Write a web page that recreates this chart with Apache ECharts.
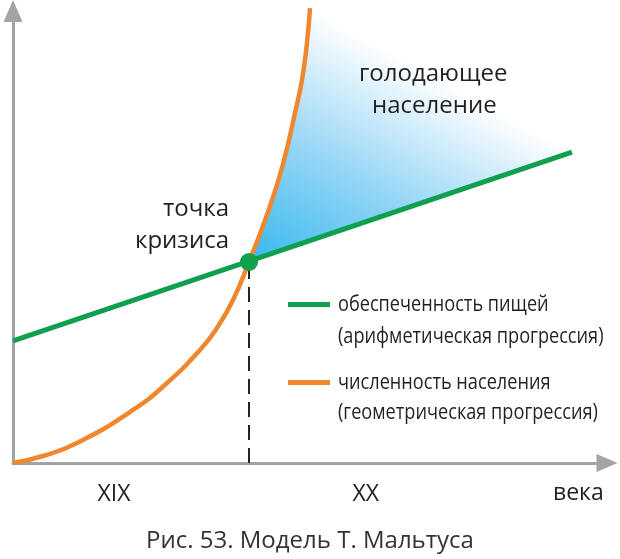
<!DOCTYPE html>
<html>
<head>
<meta charset="utf-8">
<script src="https://cdn.jsdelivr.net/npm/echarts@6/dist/echarts.min.js"></script>
<style>
  html, body { margin: 0; padding: 0; background: #fff; }
  #chart { width: 620px; height: 559px; }
</style>
</head>
<body>
<div id="chart"></div>
<script>
  // обеспеченность пищей (прямая) и численность населения (кривая), в условных единицах 0..100
  var foodLine = [[0, 27.0], [94.1, 68.8]];
  var populationCurve = [
    [0, 0], [5.05, 1.55], [10.77, 4.42], [20.2, 11.73], [25.93, 17.7],
    [31.48, 25.0], [34.34, 29.87], [37.04, 36.06], [39.73, 44.47], [41.58, 50.66],
    [43.27, 56.86], [44.95, 63.72], [46.3, 70.58], [47.47, 77.43], [48.65, 84.73],
    [49.49, 92.92], [50.0, 100.66]
  ];
  var crisisPoint = [39.73, 44.47];
  var centuryTicks = [17, 59.4];
  var centuryLabels = ['XIX', 'XX'];

  var GREEN = '#109e4f';
  var ORANGE = '#f0872f';
  var AXIS = '#a3a3a3';
  var TEXT = '#231f20';
  var FONT = "'Open Sans', 'Noto Sans', sans-serif";

  var myChart = echarts.init(document.getElementById('chart'));

  // голодающее население — область между кривой и прямой выше точки кризиса
  function renderHunger(params, api) {
    var pts = populationCurve.filter(function (p) {
      return p[0] >= crisisPoint[0];
    }).map(function (p) { return api.coord(p); });
    var top = pts[pts.length - 1];
    var end = api.coord(foodLine[1]);
    pts.push(end);
    var c = api.coord(crisisPoint);
    // заливка бледнеет к линии "верх кривой - конец прямой"
    var dx = end[0] - top[0], dy = end[1] - top[1];
    var len = Math.sqrt(dx * dx + dy * dy);
    var nx = dy / len, ny = -dx / len;
    var d = (top[0] - c[0]) * nx + (top[1] - c[1]) * ny;
    return {
      type: 'polygon',
      shape: { points: pts, smooth: 0 },
      style: {
        fill: new echarts.graphic.LinearGradient(c[0], c[1], c[0] + nx * d, c[1] + ny * d, [
          { offset: 0, color: '#36b8ef' },
          { offset: 0.5, color: '#96d6f6' },
          { offset: 1, color: '#ffffff' }
        ], true)
      }
    };
  }

  var legendFont = { fontSize: 22, fontFamily: FONT, fill: TEXT, verticalAlign: 'middle' };

  function txt(el) {
    el.z = 100;
    return el;
  }

  var option = {
    animation: false,
    backgroundColor: '#fff',
    grid: { left: 13, right: 13, top: 11, bottom: 96 },
    xAxis: {
      type: 'value',
      min: 0,
      max: 100,
      name: 'века',
      nameLocation: 'end',
      nameGap: -54,
      nameTextStyle: {
        color: TEXT,
        fontSize: 23,
        fontFamily: FONT,
        align: 'left',
        verticalAlign: 'top',
        padding: [19, 0, 0, 0]
      },
      axisLine: {
        lineStyle: { color: AXIS, width: 3 },
        symbol: ['none', 'triangle'],
        symbolSize: [18, 21]
      },
      axisTick: { show: false },
      splitLine: { show: false },
      axisLabel: {
        customValues: centuryTicks,
        margin: 20,
        color: TEXT,
        fontSize: 23,
        fontFamily: FONT,
        formatter: function (v) {
          return centuryLabels[centuryTicks.indexOf(v)];
        }
      }
    },
    yAxis: {
      type: 'value',
      min: 0,
      max: 100,
      axisLine: {
        show: true,
        lineStyle: { color: AXIS, width: 3 },
        symbol: ['none', 'triangle'],
        symbolSize: [19, 22]
      },
      axisTick: { show: false },
      splitLine: { show: false },
      axisLabel: { show: false }
    },
    graphic: [
      txt({ type: 'text', left: 359, top: 62,
        style: { text: 'голодающее', fontSize: 24, fontFamily: FONT, fill: TEXT } }),
      txt({ type: 'text', left: 372, top: 94,
        style: { text: 'население', fontSize: 24, fontFamily: FONT, fill: TEXT } }),
      txt({ type: 'text', left: 163, top: 197,
        style: { text: 'точка', fontSize: 24, fontFamily: FONT, fill: TEXT } }),
      txt({ type: 'text', left: 135, top: 229,
        style: { text: 'кризиса', fontSize: 24, fontFamily: FONT, fill: TEXT } }),
      // легенда
      txt({ type: 'rect', left: 288, top: 302, shape: { width: 42, height: 5 }, style: { fill: GREEN } }),
      txt({ type: 'text', x: 338, y: 305, scaleX: 0.825, style: Object.assign({ text: 'обеспеченность пищей' }, legendFont) }),
      txt({ type: 'text', x: 338, y: 337, scaleX: 0.825, style: Object.assign({ text: '(арифметическая прогрессия)' }, legendFont) }),
      txt({ type: 'rect', left: 288, top: 380, shape: { width: 42, height: 5 }, style: { fill: ORANGE } }),
      txt({ type: 'text', x: 338, y: 383, scaleX: 0.825, style: Object.assign({ text: 'численность населения' }, legendFont) }),
      txt({ type: 'text', x: 338, y: 413, scaleX: 0.825, style: Object.assign({ text: '(геометрическая прогрессия)' }, legendFont) }),
      // подпись
      txt({ type: 'text', left: 'center', top: 529,
        style: { text: 'Рис. 53. Модель Т. Мальтуса', fontSize: 24, fontFamily: FONT, fill: '#333' } })
    ],
    series: [
      {
        type: 'custom',
        renderItem: renderHunger,
        data: [0],
        clip: false,
        silent: true,
        z: 1
      },
      {
        name: 'пунктир',
        type: 'line',
        data: [[crisisPoint[0], 0], crisisPoint],
        symbol: 'none',
        lineStyle: { color: '#222', width: 2, type: [15, 8] },
        z: 2
      },
      {
        name: 'численность населения',
        type: 'line',
        data: populationCurve,
        smooth: 0.5,
        symbol: 'none',
        clip: false,
        lineStyle: { color: ORANGE, width: 4.5 },
        z: 3
      },
      {
        name: 'обеспеченность пищей',
        type: 'line',
        data: foodLine,
        symbol: 'none',
        lineStyle: { color: GREEN, width: 5 },
        z: 4
      },
      {
        name: 'точка кризиса',
        type: 'scatter',
        data: [crisisPoint],
        symbolSize: 18,
        itemStyle: { color: '#12a04b', opacity: 1 },
        z: 5
      }
    ]
  };

  myChart.setOption(option);
</script>
</body>
</html>
